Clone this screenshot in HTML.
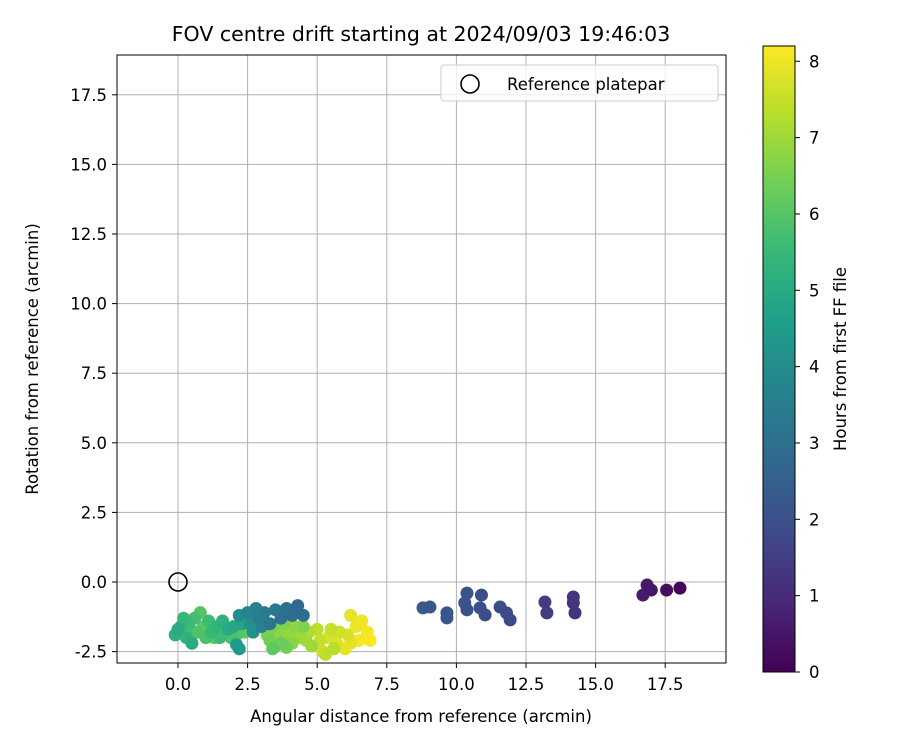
<!DOCTYPE html>
<html><head><meta charset="utf-8"><style>
body{margin:0;background:#fff}
svg text{font-family:"DejaVu Sans","Liberation Sans",sans-serif;fill:#000}
</style></head><body>
<svg id="chart" width="900" height="750" xmlns="http://www.w3.org/2000/svg">
<defs><linearGradient id="vir" x1="0" y1="1" x2="0" y2="0"></linearGradient></defs>
<rect width="900" height="750" fill="#fff"/>
<g id="grid"></g><g id="pts"></g><g id="axes"></g>
</svg>
<script>
const xTicks=[0,2.5,5,7.5,10,12.5,15,17.5];
const yTicks=[-2.5,0,2.5,5,7.5,10,12.5,15,17.5];
const cbTicks=[0,1,2,3,4,5,6,7,8];
const ptX=[8.8,9.05,9.66,9.66,10.38,10.3,10.38,10.9,10.85,11.03,11.57,11.8,11.93,13.18,13.25,14.2,14.2,14.26,16.7,16.85,17.0,17.55,18.03,
-0.1,0.1,0.2,0.3,0.4,0.5,0.6,0.7,0.8,0.9,1.0,1.1,1.2,1.4,1.5,1.6,1.8,1.9,2.0,2.1,2.2,2.1,2.4,2.3,0.0,0.3,1.3,
2.2,2.5,2.6,2.8,2.9,2.7,3.1,3.3,3.5,3.7,3.9,4.1,4.3,4.5,3.0,
3.2,3.3,3.4,3.5,3.6,3.7,3.8,4.0,4.1,4.2,4.4,4.5,4.6,4.7,4.8,3.4,3.9,
5.0,5.1,5.2,5.3,5.4,5.5,5.7,5.8,6.0,6.1,6.2,6.4,6.5,6.6,6.8,6.9,6.2,5.6];
const ptY=[-0.93,-0.9,-1.11,-1.29,-0.4,-0.75,-1.0,-0.47,-0.93,-1.18,-0.9,-1.11,-1.36,-0.72,-1.11,-0.54,-0.75,-1.11,-0.47,-0.11,-0.29,-0.29,-0.22,
-1.9,-1.6,-1.3,-2.0,-1.5,-2.2,-1.3,-1.8,-1.1,-1.6,-2.0,-1.4,-1.8,-1.6,-2.0,-1.4,-1.7,-2.0,-1.6,-1.9,-2.4,-2.25,-1.8,-1.5,-1.7,-1.75,-2.0,
-1.2,-1.1,-1.5,-0.95,-1.3,-1.8,-1.1,-1.5,-1.0,-1.3,-0.95,-1.2,-0.85,-1.2,-1.6,
-1.9,-2.1,-1.6,-2.3,-1.8,-2.2,-1.5,-1.9,-2.2,-1.6,-2.0,-1.6,-2.1,-1.8,-2.3,-2.4,-2.35,
-1.7,-2.1,-2.5,-2.6,-2.0,-1.7,-2.2,-1.8,-2.4,-1.9,-1.2,-1.6,-2.1,-1.4,-1.8,-2.1,-2.2,-2.4];
const ptT=[2.3,2.25,2.2,2.2,2.05,2.05,2.0,1.95,1.95,1.9,1.85,1.8,1.8,1.45,1.45,1.25,1.25,1.2,0.6,0.55,0.5,0.3,0.1,
5.2,5.4,5.5,5.3,5.6,5.0,5.7,5.9,6.0,6.1,5.8,5.6,5.5,5.4,5.6,5.2,5.0,5.8,4.9,6.0,4.5,4.6,6.1,4.8,5.0,5.8,6.2,
4.0,3.8,4.1,3.6,3.5,4.2,3.4,3.2,3.3,3.0,3.1,2.9,2.8,2.9,3.7,
6.6,6.4,6.5,6.5,6.8,6.3,6.6,6.9,6.7,6.8,7.0,6.6,7.1,7.2,7.0,6.1,6.4,
7.4,7.5,7.6,7.4,7.7,7.5,7.8,7.6,7.9,7.7,7.9,8.0,8.1,8.0,8.1,8.2,7.9,7.3];
const L=117,R=726,T=55,B=663;
const X=v=>178+v*27.84, Y=v=>582-v*27.84;
const cbL=763,cbR=795,cbT=46,cbB=672,tMax=8.2;
const CB=v=>cbB-v*(cbB-cbT)/tMax;
const vir=[[68,1,84],[72,40,120],[62,74,137],[49,104,142],[38,130,142],[31,158,137],[53,183,121],[110,206,88],[181,222,43],[253,231,37]];
function col(t){let f=Math.max(0,Math.min(1,t/tMax))*(vir.length-1);let i=Math.min(vir.length-2,Math.floor(f)),r=f-i;
const c=vir[i].map((a,k)=>Math.round(a+(vir[i+1][k]-a)*r));return `rgb(${c})`;}
const NS='http://www.w3.org/2000/svg';
function mk(tag,at,parent,txt){const e=document.createElementNS(NS,tag);for(const k in at)e.setAttribute(k,at[k]);if(txt!==undefined)e.textContent=txt;parent.appendChild(e);return e;}
const g=document.getElementById('grid'),p=document.getElementById('pts'),a=document.getElementById('axes');
const FS=16.5;
xTicks.forEach(v=>{const l=mk('line',{x1:X(v),x2:X(v),y1:T,y2:B,stroke:'#b0b0b0','stroke-width':1},g);


mk('line',{x1:X(v),x2:X(v),y1:B,y2:B+5,stroke:'#000'},a);
const tx=mk('text',{x:X(v),y:B+27,'text-anchor':'middle','font-size':FS},a,v.toFixed(1));

});
yTicks.forEach(v=>{const l=mk('line',{x1:L,x2:R,y1:Y(v),y2:Y(v),stroke:'#b0b0b0','stroke-width':1},g);


mk('line',{x1:L-5,x2:L,y1:Y(v),y2:Y(v),stroke:'#000'},a);
const tx=mk('text',{x:L-10,y:Y(v)+6,'text-anchor':'end','font-size':FS},a,v.toFixed(1));

});
const order=ptT.map((t,i)=>i).sort((i,j)=>ptT[j]-ptT[i]);
order.forEach(i=>{const c=mk('circle',{cx:X(ptX[i]),cy:Y(ptY[i]),r:6.5,fill:col(ptT[i])},p);

});
const ref=mk('circle',{cx:X(0),cy:Y(0),r:9,fill:'none',stroke:'#000','stroke-width':1.6},p);


const fr=mk('rect',{x:L,y:T,width:R-L,height:B-T,fill:'none',stroke:'#000','stroke-width':1},a);


const lg=mk('g',{},a);


mk('rect',{x:441,y:65,width:277,height:36,rx:3,fill:'#fff','fill-opacity':0.8,stroke:'#ccc'},lg);
mk('circle',{cx:470,cy:84,r:9,fill:'none',stroke:'#000','stroke-width':1.6},lg);
mk('text',{x:507,y:90,'font-size':FS},lg,'Reference platepar');
const tt=mk('text',{x:421,y:41,'text-anchor':'middle','font-size':20.5},a,'FOV centre drift starting at 2024/09/03 19:46:03');


const xl=mk('text',{x:421,y:722,'text-anchor':'middle','font-size':FS},a,'Angular distance from reference (arcmin)');


const yl=mk('text',{x:0,y:0,'text-anchor':'middle','font-size':FS,transform:'translate(38,359) rotate(-90)'},a,'Rotation from reference (arcmin)');


const gr=document.getElementById('vir');
vir.forEach((c,i)=>{mk('stop',{offset:(i/(vir.length-1)),'stop-color':`rgb(${c})`},gr);});
const cb=mk('rect',{x:cbL,y:cbT,width:cbR-cbL,height:cbB-cbT,fill:'url(#vir)',stroke:'#000','stroke-width':1},a);


cbTicks.forEach(v=>{mk('line',{x1:cbR,x2:cbR+5,y1:CB(v),y2:CB(v),stroke:'#000'},a);
const tx=mk('text',{x:cbR+14,y:CB(v)+6,'font-size':FS},a,String(v));

});
const cl=mk('text',{x:0,y:0,'text-anchor':'middle','font-size':FS,transform:'translate(846,359) rotate(-90)'},a,'Hours from first FF file');


</script>
</body></html>
